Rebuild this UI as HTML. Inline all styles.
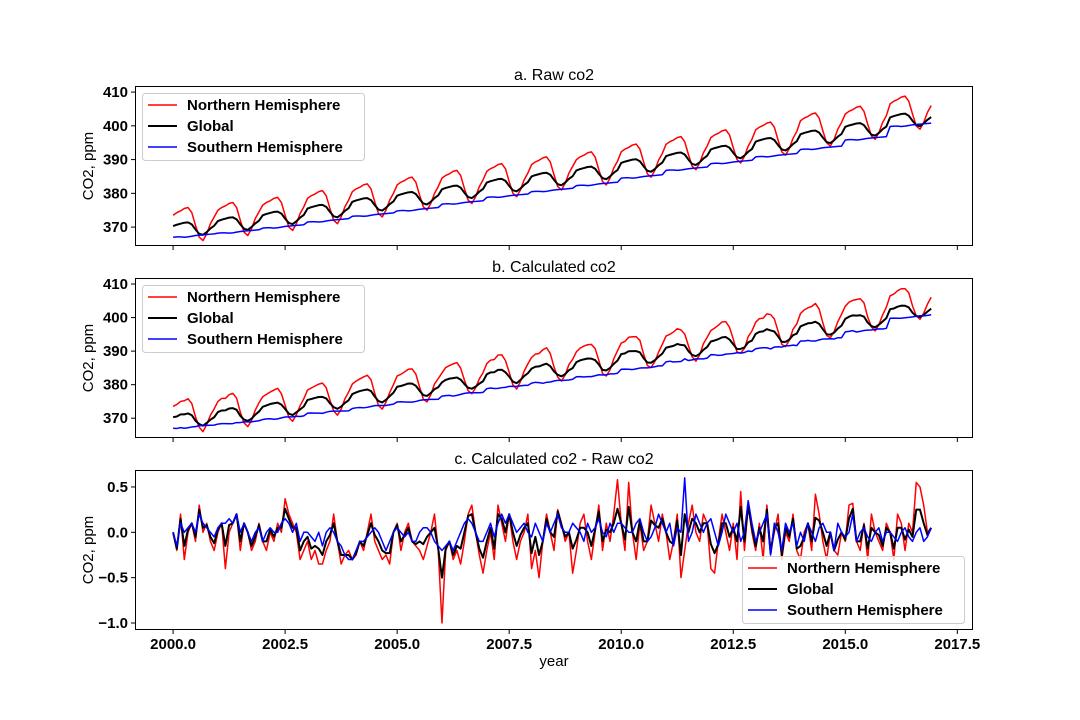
<!DOCTYPE html>
<html><head><meta charset="utf-8">
<style>
html,body{margin:0;padding:0;background:#fff;}
svg{display:block;font-family:"Liberation Sans","DejaVu Sans",sans-serif;}
.tick{font-size:15px;font-weight:bold;fill:#000;}
.ttl{font-size:16px;fill:#000;}
.lab{font-size:15px;fill:#000;}
.leg{font-size:15px;font-weight:bold;fill:#000;}
</style></head>
<body>
<svg id="chart" width="1080" height="720" viewBox="0 0 1080 720" xmlns="http://www.w3.org/2000/svg"></svg>
<script>
// ---- data ----
const years = [2000,2001,2002,2003,2004,2005,2006,2007,2008,2009,2010,2011,2012,2013,2014,2015,2016];
const xTicks = [2000.0,2002.5,2005.0,2007.5,2010.0,2012.5,2015.0,2017.5];
const xTickLabels = ["2000.0","2002.5","2005.0","2007.5","2010.0","2012.5","2015.0","2017.5"];
const yTicksAB = [370,380,390,400,410];
const yTicksC = [0.5,0.0,-0.5,-1.0];
const yTickLabelsC = ["0.5","0.0","\u22120.5","\u22121.0"];
// January value per year (raw co2, ppm)
const nhJan = [373.5,375,376.5,378.5,380.5,382.5,384.5,386.5,388.5,390,392.3,394.5,396.5,398.8,401.5,403.5,406.5];
const glJan = [370.3,371.8,373.5,375.5,377.5,379.3,381.2,383.2,385,386.8,389,391,393,395.3,397.5,399.7,402.5];
const shJan = [367,368.2,369.7,371.5,373.2,374.8,376.8,378.8,380.5,382.3,384.5,386.8,388.8,390.8,393,395.8,399.8];
// monthly offset from January value
const nhSeason = [0,0.8,1.3,2.0,2.3,0.8,-3.0,-6.5,-7.5,-5.5,-2.5,-0.5];
const glSeason = [0,0.4,0.7,1.0,1.1,0.5,-1.0,-2.3,-2.6,-1.8,-0.7,0.1];
const shSeason = [0,0.1,0.1,0.0,0.1,0.3,0.5,0.6,0.7,0.8,0.9,1.0];
// calculated - raw (ppm)
const nhDiff = [
0.0,-0.2,0.2,-0.3,0.0,0.1,-0.1,0.3,0.0,0.1,-0.1,-0.2,
0.0,0.1,-0.4,0.0,0.1,0.2,-0.2,0.1,0.0,-0.2,-0.1,0.1,
-0.1,-0.2,0.0,-0.1,0.1,0.0,0.37,0.2,0.1,0.0,-0.3,-0.2,
-0.1,-0.3,-0.2,-0.35,-0.35,-0.2,-0.1,0.2,-0.1,-0.35,-0.25,-0.2,
-0.3,-0.25,-0.1,-0.2,0.0,0.2,-0.1,-0.2,-0.3,-0.25,-0.35,0.0,
0.1,-0.2,0.0,0.1,-0.1,-0.15,-0.2,-0.3,-0.15,0.0,0.2,-0.2,
-1.0,-0.2,-0.1,-0.3,-0.2,-0.35,-0.1,0.2,0.3,0.0,-0.25,-0.45,
-0.2,0.0,-0.3,0.3,0.1,-0.1,0.2,-0.1,-0.3,-0.1,0.0,0.2,
-0.4,-0.2,-0.5,-0.1,0.2,0.0,-0.2,0.25,0.1,-0.1,0.0,-0.45,
-0.2,0.1,0.2,-0.1,-0.3,0.0,0.3,-0.2,0.1,-0.1,0.2,0.58,
0.1,-0.2,0.55,0.0,-0.3,0.1,-0.2,-0.1,0.3,0.1,-0.1,0.2,
0.0,-0.3,-0.1,0.2,-0.5,-0.2,0.1,0.3,0.0,-0.1,0.2,0.1,
-0.4,-0.45,-0.1,0.2,0.0,-0.2,0.1,-0.3,0.45,-0.2,0.3,0.0,
-0.2,0.1,-0.3,0.3,-0.2,0.0,0.2,-0.3,0.0,-0.1,0.2,-0.2,
-0.3,0.0,0.1,-0.2,0.42,0.2,-0.1,-0.3,0.0,-0.2,-0.25,0.0,
-0.1,0.3,0.32,-0.1,-0.2,0.1,-0.3,0.2,0.0,-0.1,-0.2,0.1,
0.0,-0.3,0.2,0.1,-0.2,0.1,0.0,0.55,0.5,0.3,0.0,0.05];
const shDiff = [
0.0,-0.15,0.1,0.0,0.05,0.1,0.0,0.2,0.1,0.05,0.0,-0.05,
0.05,0.1,0.1,0.15,0.1,0.2,0.0,0.1,0.0,-0.1,0.0,0.05,
-0.1,0.0,0.05,0.0,0.0,0.1,0.15,0.1,0.0,0.1,-0.1,0.0,
0.0,-0.05,-0.1,0.0,-0.15,0.0,0.05,0.0,-0.1,-0.15,-0.25,-0.3,
-0.3,-0.2,-0.1,-0.1,-0.05,0.0,0.05,0.0,-0.1,-0.2,-0.1,0.0,
0.05,0.0,-0.05,0.0,-0.1,-0.1,0.0,0.05,0.05,0.0,-0.1,-0.15,
-0.2,-0.15,-0.1,-0.2,-0.1,0.0,0.1,0.15,0.1,0.0,-0.1,-0.1,
0.0,0.1,-0.05,0.1,0.2,0.1,0.2,0.1,0.0,0.05,0.1,0.0,
-0.05,0.1,0.0,-0.1,0.1,0.0,0.1,0.2,0.05,0.0,0.0,0.1,
0.05,0.0,-0.1,0.1,0.0,0.05,0.15,0.0,-0.05,0.1,0.0,0.1,
0.1,0.05,0.0,0.0,0.1,0.15,0.0,-0.1,-0.05,0.05,0.2,0.1,
0.0,0.1,-0.15,0.05,0.0,0.6,-0.1,0.0,0.2,0.1,0.0,0.1,
0.15,0.0,-0.15,0.0,0.2,0.1,0.0,0.1,-0.1,0.0,0.35,0.1,
-0.1,0.0,0.1,0.2,-0.25,0.1,0.0,-0.2,0.1,0.0,0.1,-0.15,
0.0,-0.1,0.1,0.0,-0.1,0.05,0.1,0.0,0.0,-0.2,0.1,0.0,
-0.05,0.0,0.2,-0.1,0.0,0.05,-0.05,-0.1,0.0,0.05,-0.1,0.0,
0.0,-0.05,-0.1,0.0,0.05,-0.05,-0.1,0.0,0.05,-0.1,-0.05,0.05];
const glDiff = [
0.0,-0.18,0.15,-0.15,0.03,0.1,-0.05,0.25,0.05,0.08,-0.05,-0.12,
0.03,0.1,-0.15,0.08,0.1,0.2,-0.1,0.1,0.0,-0.15,-0.05,0.08,
-0.1,-0.1,0.03,-0.05,0.05,0.05,0.26,0.15,0.05,0.05,-0.2,-0.1,
-0.05,-0.18,-0.15,-0.18,-0.25,-0.1,-0.03,0.1,-0.1,-0.25,-0.25,-0.25,
-0.3,-0.23,-0.1,-0.15,-0.03,0.1,-0.03,-0.1,-0.2,-0.23,-0.23,0.0,
0.08,-0.1,-0.03,0.05,-0.1,-0.13,-0.1,-0.13,-0.05,0.0,0.05,-0.18,
-0.5,-0.18,-0.1,-0.25,-0.15,-0.18,0.0,0.18,0.2,0.0,-0.18,-0.28,
-0.1,0.05,-0.18,0.2,0.15,0.0,0.2,0.0,-0.15,-0.03,0.05,0.1,
-0.23,-0.05,-0.25,-0.1,0.15,0.0,-0.05,0.23,0.08,-0.05,0.0,-0.18,
-0.08,0.05,0.05,0.0,-0.15,0.03,0.23,-0.1,0.03,0.0,0.1,0.26,
0.1,-0.08,0.28,0.0,-0.1,0.13,-0.1,-0.1,0.13,0.08,0.05,0.15,
0.0,-0.1,-0.13,0.13,-0.25,0.2,0.0,0.15,0.1,0.0,0.1,0.1,
-0.13,-0.23,-0.13,0.1,0.1,-0.05,0.05,-0.1,0.28,-0.1,0.3,0.05,
-0.15,0.05,-0.1,0.25,-0.23,0.05,0.1,-0.25,0.05,-0.05,0.15,-0.18,
-0.15,-0.05,0.1,-0.1,0.16,0.13,0.0,-0.15,0.0,-0.2,-0.08,0.0,
-0.08,0.15,0.26,-0.1,-0.1,0.08,-0.18,0.05,0.0,-0.03,-0.15,0.05,
0.0,-0.18,0.05,0.05,-0.08,0.03,-0.05,0.25,0.25,0.1,-0.03,0.05];

// ---- build ----
const NS = "http://www.w3.org/2000/svg";
const svg = document.getElementById("chart");
function mk(tag, attrs, parent){const e=document.createElementNS(NS,tag);for(const k in attrs)e.setAttribute(k,attrs[k]);(parent||svg).appendChild(e);return e;}

function buildRaw(jan, season){const out=[];years.forEach((y,i)=>{season.forEach((s,m)=>{out.push({t:y+m/12,v:jan[i]+s});});});return out;}
const rawNH = buildRaw(nhJan,nhSeason), rawGL = buildRaw(glJan,glSeason), rawSH = buildRaw(shJan,shSeason);
const calc = (raw,diff)=>raw.map((p,i)=>({t:p.t,v:p.v+diff[i]}));
const dser = (diff)=>diff.map((d,i)=>({t:years[0]+i/12,v:d}));

const X0=135, X1=973, XMIN=1999.15, XMAX=2017.85;
const xs = t => X0 + (t-XMIN)/(XMAX-XMIN)*(X1-X0);

const panels = [
 {key:"a",title:"a. Raw co2",top:86,bot:246,ymin:364.4,ymax:411.8,ticks:yTicksAB,tl:yTicksAB.map(String),ylab:"CO2, ppm",
  series:[[rawNH,"#ff0000",1.5,"northern-hemisphere-line"],[rawGL,"#000000",2,"global-line"],[rawSH,"#0000ff",1.5,"southern-hemisphere-line"]],
  leg:{x:142,y:93}, xl:false},
 {key:"b",title:"b. Calculated co2",top:278,bot:438,ymin:364.1,ymax:411.8,ticks:yTicksAB,tl:yTicksAB.map(String),ylab:"CO2, ppm",
  series:[[calc(rawNH,nhDiff),"#ff0000",1.5,"northern-hemisphere-line"],[calc(rawGL,glDiff),"#000000",2,"global-line"],[calc(rawSH,shDiff),"#0000ff",1.5,"southern-hemisphere-line"]],
  leg:{x:142,y:285}, xl:false},
 {key:"c",title:"c. Calculated co2 - Raw co2",top:470,bot:630,ymin:-1.077,ymax:0.687,ticks:yTicksC,tl:yTickLabelsC,ylab:"CO2, ppm",
  series:[[dser(nhDiff),"#ff0000",1.5,"northern-hemisphere-line"],[dser(glDiff),"#000000",2,"global-line"],[dser(shDiff),"#0000ff",1.5,"southern-hemisphere-line"]],
  leg:{x:742,y:556}, xl:true}
];

panels.forEach(p=>{
  const g = mk("g",{});
  
  
  const ys = v => p.bot - (v-p.ymin)/(p.ymax-p.ymin)*(p.bot-p.top);
  const cid = "clip"+p.key;
  const cp = mk("clipPath",{id:cid},g); mk("rect",{x:X0,y:p.top,width:X1-X0,height:p.bot-p.top},cp);
  p.series.forEach(s=>{
    const d = s[0].map((pt,i)=>(i?"L":"M")+xs(pt.t).toFixed(2)+","+ys(pt.v).toFixed(2)).join("");
    const path = mk("path",{d:d,fill:"none",stroke:s[1],"stroke-width":s[2],"stroke-linejoin":"round","clip-path":"url(#"+cid+")"},g);
    
    
  });
  const frame = mk("rect",{x:X0+0.5,y:p.top+0.5,width:X1-X0-1,height:p.bot-p.top-1,fill:"none",stroke:"#000","stroke-width":1},g);
  
  
  p.ticks.forEach((v,i)=>{
    const y=ys(v);
    mk("line",{x1:X0-4,x2:X0,y1:y,y2:y,stroke:"#000","stroke-width":1},g);
    const t=mk("text",{x:X0-7,y:y+5,"text-anchor":"end",class:"tick"},g); t.textContent=p.tl[i];
    
    
  });
  xTicks.forEach((v,i)=>{
    const x=xs(v);
    mk("line",{x1:x,x2:x,y1:p.bot,y2:p.bot+4,stroke:"#000","stroke-width":1},g);
    if(p.xl){const t=mk("text",{x:x,y:p.bot+19,"text-anchor":"middle",class:"tick"},g);t.textContent=xTickLabels[i];
      
      }
  });
  const tt=mk("text",{x:(X0+X1)/2,y:p.top-6,"text-anchor":"middle",class:"ttl"},g); tt.textContent=p.title;
  
  
  const cy=(p.top+p.bot)/2;
  const yl=mk("text",{x:93,y:cy,"text-anchor":"middle",class:"lab",transform:"rotate(-90 93 "+cy+")"},g); yl.textContent=p.ylab;
  
  
  const lg = mk("g",{},g);
  
  
  mk("rect",{x:p.leg.x+0.5,y:p.leg.y+0.5,width:222,height:67,rx:3,fill:"#fff","fill-opacity":0.8,stroke:"#ccc","stroke-width":1},lg);
  const names=["Northern Hemisphere","Global","Southern Hemisphere"];
  p.series.forEach((s,i)=>{
    const y=p.leg.y+12+i*21;
    mk("line",{x1:p.leg.x+6,x2:p.leg.x+35,y1:y,y2:y,stroke:s[1],"stroke-width":s[2]},lg);
    const t=mk("text",{x:p.leg.x+45,y:y+5,class:"leg"},lg); t.textContent=names[i];
    
    
  });
});
const xt=mk("text",{x:(X0+X1)/2,y:666,"text-anchor":"middle",class:"lab"}); xt.textContent="year";


</script>
</body></html>
